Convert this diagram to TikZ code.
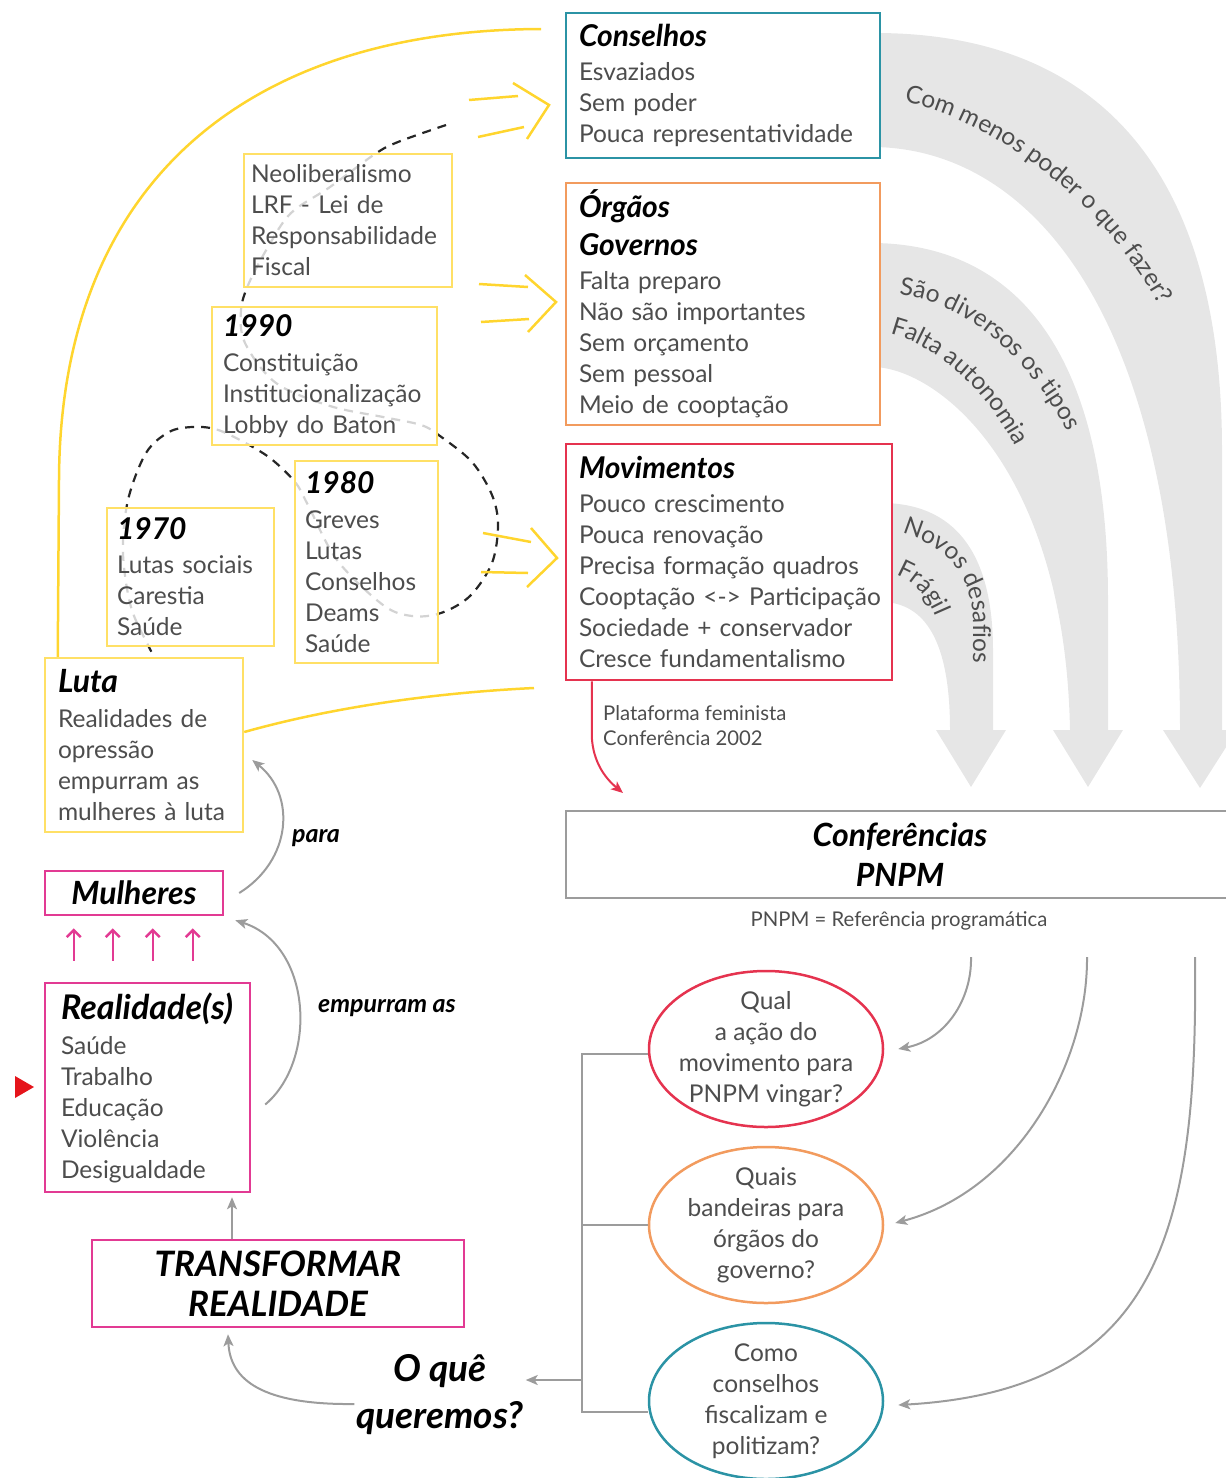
\documentclass[tikz,border=0pt]{standalone}
\usepackage{fontspec}
\setmainfont{Lato}
\usetikzlibrary{arrows.meta,decorations.text,shapes.geometric}
\definecolor{tealc}{HTML}{2B93A5}
\definecolor{orngc}{HTML}{F29B5E}
\definecolor{redc}{HTML}{E5334F}
\definecolor{pinkc}{HTML}{E23A93}
\definecolor{yboxc}{HTML}{FFE066}
\definecolor{ylinec}{HTML}{FFD52E}
\definecolor{bandc}{HTML}{E6E6E6}
\definecolor{garr}{HTML}{9C9C9C}
\definecolor{txtc}{HTML}{4D4D4D}
\definecolor{tric}{HTML}{E5141B}
\hyphenpenalty=10000
\exhyphenpenalty=10000
\newcommand{\mybody}{\fontsize{24.5}{31}\selectfont}
\newcommand{\myhdx}[1]{\fontsize{#1}{31}\selectfont\bfseries\itshape\color{black}}
\newcommand{\myhd}{\myhdx{30}}
\newcommand{\mysmall}{\fontsize{20.3}{25}\selectfont}
\tikzset{
  tbox/.style={draw=#1, line width=2.5pt, fill=white, rectangle, align=left,
    font=\mybody, text=txtc, inner ysep=0pt},
  ybox/.style={draw=yboxc, line width=2.5pt, fill=white, fill opacity=0.8, text opacity=1,
    rectangle, align=left, font=\mybody, text=txtc, inner ysep=0pt},
  cbox/.style={draw=#1, line width=2.5pt, fill=white, rectangle, align=center, inner sep=0pt},
  qell/.style={ellipse, draw=#1, line width=2.5pt, fill=white, minimum width=234pt, minimum height=156pt,
    inner xsep=-14pt, inner ysep=-8pt, align=center, font=\mybody, text=txtc},
  yline/.style={draw=ylinec, line width=2.5pt},
  garrow/.style={draw=garr, line width=2pt, -{Stealth[length=12pt,width=10pt,inset=3pt]}},
  gline/.style={draw=garr, line width=2.5pt},
  parrow/.style={draw=pinkc, line width=2.5pt, -{Straight Barb[length=7pt,width=14pt,line width=2.5pt]}},
  lbl/.style={font=\fontsize{25}{28}\selectfont\bfseries\itshape, text=black}
}
\begin{document}
\begin{tikzpicture}[x=1pt,y=-1pt]
\clip (0,0) rectangle (1226,1478);
\useasboundingbox (0,0) rectangle (1226,1478);

% ---- big grey band arrows ----
\fill[bandc] (875,33) .. controls (1080,33) and (1222,150) .. (1222,450) -- (1222,730)
  -- (1237,730) -- (1200,788) -- (1163,730) -- (1180,730)
  .. controls (1180,330) and (1040,150) .. (875,147) -- cycle;
\fill[bandc] (875,243) .. controls (1000,245) and (1108,330) .. (1108,600) -- (1108,730)
  -- (1123,730) -- (1088,787) -- (1053,730) -- (1070,730)
  .. controls (1065,470) and (940,370) .. (875,367) -- cycle;
\fill[bandc] (885,503) .. controls (960,505) and (993,560) .. (993,650) -- (993,730)
  -- (1006,730) -- (971,787) -- (936,730) -- (950,730)
  .. controls (950,650) and (930,605) .. (885,602) -- cycle;

\path[decorate, decoration={text along path, text align=left, text={|\mybody\color{txtc}|Com menos poder o que fazer?}}]
  (904,102) .. controls (990,120) and (1125,205) .. (1185,360);
\path[decorate, decoration={text along path, text align=left, text={|\mybody\color{txtc}|São diversos os tipos}}]
  (899,295) .. controls (967,302) and (1048,366) .. (1088,480);
\path[decorate, decoration={text along path, text align=left, text={|\mybody\color{txtc}|Falta autonomia}}]
  (890,334) .. controls (942,347) and (998,398) .. (1030,478);
\path[decorate, decoration={text along path, text align=left, text={|\mybody\color{txtc}|Novos desafios}}]
  (902,533) .. controls (945,545) and (972,575) .. (973,620) -- (973,720);
\path[decorate, decoration={text along path, text align=left, text={|\mybody\color{txtc}|Frágil}}]
  (896,575) .. controls (918,583) and (937,603) .. (945,650);

% ---- dashed spiral ----
\draw[black!85, line width=2.2pt, dash pattern=on 9pt off 7pt] plot[smooth, tension=0.55] coordinates {
 (446,125) (398,142) (375,154) (330,187) (291,213) (268,247) (249,283) (241,310) (245,343)
 (276,383) (330,406) (383,417) (421,425) (440,436) (472,462) (492,495) (498,525) (492,563)
 (470,596) (441,613) (412,616) (383,605) (337,560) (308,505) (295,482) (270,458) (240,440)
 (215,429) (192,427) (169,432) (146,453) (128,500) (123,553) (131,607) (148,645) (155,658)};

\coordinate (yc) at (541,29);
\coordinate (yl) at (534,688);

% ---- boxes ----
\node[tbox=tealc, minimum width=314pt, minimum height=145pt, text width=288pt, inner xsep=13pt] (cons) at (723,85.5)
 {{\myhd Conselhos}\\[3pt]Esvaziados\\Sem~poder\\Pouca~representatividade};
\node[tbox=orngc, minimum width=314pt, minimum height=242pt, text width=288pt, inner xsep=13pt] (org) at (723,304)
 {{\myhd Órgãos}\\[7pt]{\myhd Governos}\\[3pt]Falta~preparo\\Não~são~importantes\\Sem~orçamento\\Sem~pessoal\\Meio~de~cooptação};
\node[tbox=redc, minimum width=326pt, minimum height=236pt, text width=300pt, inner xsep=13pt] (mov) at (729,562)
 {{\myhd Movimentos}\\[3pt]Pouco~crescimento\\Pouca~renovação\\Precisa~formação~quadros\\Cooptação~<->~Participação\\Sociedade~+~conservador\\Cresce~fundamentalismo};

\node[ybox, minimum width=208pt, minimum height=133pt, text width=194pt, inner xsep=7pt] (neo) at (348,220.5)
 {Neoliberalismo\\LRF~-~Lei~de\\Responsabilidade\\Fiscal};
\node[ybox, minimum width=225pt, minimum height=138pt, text width=203pt, inner xsep=11pt] (n90) at (324.5,376)
 {{\myhd 1990}\\[4pt]Constituição\\Institucionalização\\Lobby~do~Baton};
\node[ybox, minimum width=143pt, minimum height=202pt, text width=123pt, inner xsep=10pt] (n80) at (366.5,562)
 {{\myhd 1980}\\[4pt]Greves\\Lutas\\Conselhos\\Deams\\Saúde};
\node[ybox, minimum width=167pt, minimum height=138pt, text width=147pt, inner xsep=10pt] (n70) at (190.5,577)
 {{\myhd 1970}\\[3pt]Lutas~sociais\\Carestia\\Saúde};
\node[ybox, fill opacity=1, minimum width=198pt, minimum height=174pt, text width=172pt, inner xsep=13pt] (luta) at (144,745)
 {{\myhdx{32}Luta}\\[4pt]Realidades~de\\opressão\\empurram~as\\mulheres~à~luta};

\draw[yline] (yc) .. controls (250,30) and (60,180) .. (59,480) -- ([xshift=14pt]luta.north west);
\draw[yline] ([yshift=13pt]luta.east) .. controls (330,708) and (430,693) .. (yl);

% chevrons
\draw[yline] (469,100) -- (518,96);
\draw[yline] (478,137) -- (524,127);
\draw[yline] (513,83) -- (549,105) -- (527,139);
\draw[yline] (479,284) -- (528,287);
\draw[yline] (481,322) -- (529,319);
\draw[yline] (525,275) -- (556,302) -- (528,332);
\draw[yline] (483,533) -- (531,542);
\draw[yline] (481,572) -- (528,573);
\draw[yline] (531,528) -- (557,558) -- (527,587);

\node[cbox=pinkc, minimum width=178pt, minimum height=44pt] (mulh) at (134,893) {\myhdx{32}Mulheres};
\node[tbox=pinkc, minimum width=205pt, minimum height=209pt, text width=173pt, inner xsep=16pt] (real) at (147.5,1087.5)
 {{\myhdx{34}Realidade(s)}\\[4pt]Saúde\\Trabalho\\Educação\\Violência\\Desigualdade};
\node[cbox=pinkc, minimum width=372pt, minimum height=87pt, font=\fontsize{35}{40}\selectfont\bfseries\itshape] (transf) at (278,1283.5)
 {TRANSFORMAR\\REALIDADE};
\node[cbox=garr, minimum width=668pt, minimum height=87pt, font=\fontsize{32}{40}\selectfont\bfseries\itshape] (conf) at (900,854.5)
 {Conferências\\PNPM};
\node[font=\mysmall, text=txtc] (pnpm) at (899,921) {PNPM = Referência programática};
\node[font=\mysmall, text=txtc, align=left, anchor=west, inner sep=0pt] (plat) at (603,726) {Plataforma feminista\\Conferência 2002};

\node[qell=redc] (qual) at (766,1049) {Qual\\a ação do\\movimento para\\PNPM vingar?};
\node[qell=orngc] (quais) at (766,1225) {Quais\\bandeiras para\\órgãos do\\governo?};
\node[qell=tealc] (como) at (766,1401) {Como\\conselhos\\fiscalizam e\\politizam?};

\node[font=\fontsize{37}{47}\selectfont\bfseries\itshape, align=center, inner sep=2pt] (oque) at (440,1395) {O quê\\queremos?};
\node[lbl] (emp) at (387,1008) {empurram as};
\node[lbl] (para) at (316,838) {para};

% ---- arrows ----
\draw[redc, line width=2pt, -{Stealth[length=12pt,width=10pt,inset=3pt]}] ([xshift=27pt]mov.south west) -- ++(0,55)
  .. controls (593,762) and (605,778) .. (623,793);

\coordinate (s1) at (971,957);
\coordinate (s2) at (1087,957);
\coordinate (s3) at (1195,957);
\draw[garrow] (s1) .. controls (972,1000) and (945,1040) .. ([xshift=14pt]qual.east);
\draw[garrow] (s2) .. controls (1088,1060) and (1020,1190) .. ([xshift=11pt,yshift=2pt]quais.east);
\draw[garrow] (s3) .. controls (1198,1230) and (1160,1390) .. ([xshift=14pt,yshift=-4pt]como.east);

\coordinate (bx) at (582,1380);
\draw[gline] ([yshift=-5pt]qual.west) -- ([yshift=-5pt]qual.west -| bx) -- ([yshift=-11pt]como.west -| bx) -- ([yshift=-11pt]como.west);
\draw[gline] (quais.west) -- (quais.west -| bx);
\draw[garrow] (bx) -- (oque.east |- bx);

\draw[garrow] (oque.west |- 0,1404) .. controls (262,1405) and (230,1380) .. ([xshift=-50pt,yshift=-6pt]transf.south);
\draw[garrow] ([xshift=-46pt]transf.north) -- ([xshift=-46pt,yshift=-4pt]transf.north |- real.south);
\draw[garrow] ([xshift=14pt,yshift=-17pt]real.east) .. controls (318,1060) and (312,945) .. ([xshift=11pt,yshift=-4pt]mulh.south east);
\draw[garrow] ([xshift=15pt]mulh.east) .. controls (292,860) and (296,795) .. ([xshift=8pt,yshift=-15pt]luta.east);

\foreach \dx in {30,69,109,149}{
  \draw[parrow] ([xshift=\dx pt,yshift=21pt]real.north west) -- ([xshift=\dx pt,yshift=-12pt]mulh.south west);
}

\fill[tric] (15,1076) -- (34,1087) -- (15,1098) -- cycle;
\end{tikzpicture}
\end{document}
